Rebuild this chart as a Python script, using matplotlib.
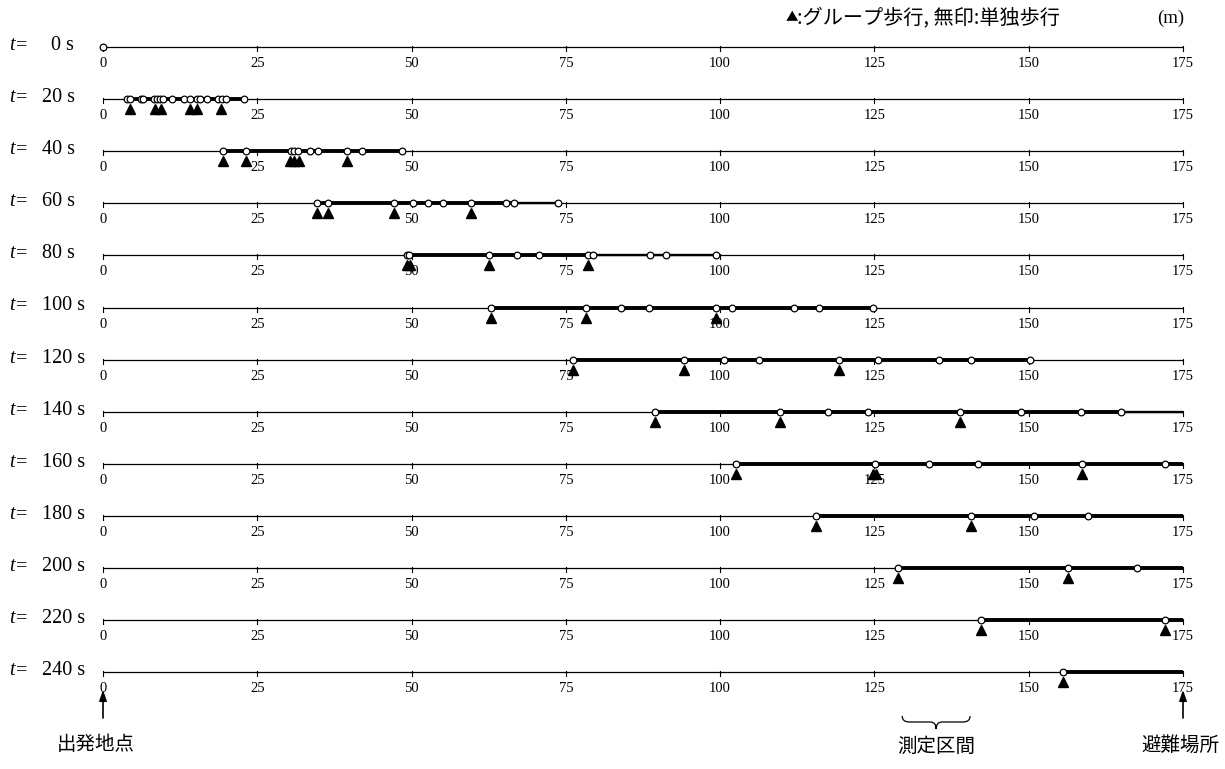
import matplotlib
matplotlib.use('Agg')
import matplotlib.pyplot as plt
from matplotlib.path import Path
from matplotlib.patches import PathPatch

plt.rcParams['font.family'] = ['Liberation Serif', 'DejaVu Serif']
jp_font = ['Noto Sans CJK JP', 'DejaVu Sans']

# elapsed time of each snapshot (s)
times = [0, 20, 40, 60, 80, 100, 120, 140, 160, 180, 200, 220, 240]
# distance ticks along the route (m)
dist_ticks = [0, 25, 50, 75, 100, 125, 150, 175]
route_len = 175

# positions of every walker (m), one list per snapshot
walkers = [
    [0],
    [3.9, 4.3, 6.1, 6.5, 8.2, 8.8, 9.3, 9.7, 11.2, 13.1, 14.1, 15.2, 15.7, 16.9, 18.6, 19.3, 19.9, 22.8],
    [19.5, 23.1, 30.4, 31.0, 31.6, 33.5, 34.8, 39.6, 41.9, 48.4],
    [34.6, 36.5, 47.1, 50.3, 52.7, 55.1, 59.6, 65.3, 66.6, 73.8],
    [49.3, 49.6, 62.6, 67.1, 70.6, 78.6, 79.4, 88.7, 91.3, 99.3],
    [62.9, 78.3, 84.0, 88.5, 99.4, 102.0, 111.9, 116.0, 124.7],
    [76.2, 94.1, 100.7, 106.3, 119.2, 125.5, 135.4, 140.7, 150.2],
    [89.5, 109.7, 117.4, 124.0, 138.9, 148.7, 158.4, 165.0],
    [102.5, 125.1, 133.9, 141.8, 158.7, 172.1],
    [115.6, 140.7, 150.8, 159.6],
    [128.9, 156.4, 167.5],
    [142.2, 172.1],
    [155.5],
]
# positions of group walkers (marked with a triangle)
groups = [
    [],
    [4.4, 8.4, 9.4, 14.1, 15.3, 19.2],
    [19.5, 23.1, 30.3, 31.0, 31.7, 39.6],
    [34.6, 36.5, 47.1, 59.6],
    [49.2, 49.7, 62.6, 78.6],
    [62.9, 78.3, 99.3],
    [76.2, 94.1, 119.2],
    [89.5, 109.7, 138.9],
    [102.5, 124.8, 125.3, 158.7],
    [115.6, 140.7],
    [128.9, 156.4],
    [142.2, 172.1],
    [155.5],
]
# extent of the crowd (thick line) and trailing thinner part
thick_from = [None, 3.9, 19.5, 34.6, 49.6, 62.9, 76.2, 89.5, 102.5, 115.6, 128.9, 142.2, 155.5]
thick_to = [None, 22.8, 48.4, 66.6, 79.4, 124.7, 150.2, 165.0, 175, 175, 175, 175, 175]
medium_to = [None, None, None, 73.8, 99.3, None, None, 175, None, None, None, None, None]

section = (129.5, 140.5)
legend_mark = '▲'
legend_text = ':グループ歩行, 無印:単独歩行'
unit_text = '(m)'
start_label = '出発地点'
goal_label = '避難場所'
section_label = '測定区間'

W, H = 1225, 769
fig = plt.figure(figsize=(W / 100, H / 100), dpi=100)
ax = fig.add_axes([0, 0, 1, 1])
ax.axis('off')

x0_px, x1_px = 103, 1183
ppm = (x1_px - x0_px) / route_len
row0_px, row_gap = 47, 52.1
ax.set_xlim(-x0_px / ppm, (W - x0_px) / ppm)
ax.set_ylim((H - row0_px) / row_gap, -row0_px / row_gap)


def px2x(px):
    return (px - x0_px) / ppm


def py2y(py):
    return (py - row0_px) / row_gap


def dy(px):
    return px / row_gap


for i, t in enumerate(times):
    ax.plot([0, route_len], [i, i], color='black', lw=0.9, solid_capstyle='butt', zorder=1)
    for d in dist_ticks:
        ax.plot([d, d], [i - dy(1), i + dy(4)], color='black', lw=0.8, zorder=1)
        ax.text(d, i + dy(20), str(d), ha='center', va='baseline', fontsize=10.5)
    if thick_from[i] is not None:
        ax.plot([thick_from[i], thick_to[i]], [i, i], color='black', lw=2.8,
                solid_capstyle='butt', zorder=2)
    if medium_to[i] is not None:
        ax.plot([thick_to[i], medium_to[i]], [i, i], color='black', lw=1.7,
                solid_capstyle='butt', zorder=2)
    ax.plot(walkers[i], [i] * len(walkers[i]), 'o', ms=4.8, mfc='white', mec='black',
            mew=0.9, zorder=4, clip_on=False)
    if groups[i]:
        ax.plot(groups[i], [i + dy(10)] * len(groups[i]), '^', ms=7.5, color='black',
                zorder=5, clip_on=False)
    # row label
    ax.text(px2x(9), i + dy(3), 't', style='italic', fontsize=14.5, va='baseline')
    ax.text(px2x(16), i + dy(3), '=', fontsize=14.5, va='baseline')
    num_x = 51 if t < 10 else 42
    ax.text(px2x(num_x), i + dy(3), f'{t} s', fontsize=14.5, va='baseline')

# header
ax.text(px2x(786), py2y(18), legend_mark, family=jp_font, fontsize=9, va='center')
ax.text(px2x(797), py2y(18), legend_text, family=jp_font, fontsize=14.5, va='center')
ax.text(px2x(1171), py2y(18), unit_text, fontsize=13.5, ha='center', va='center')

# start / goal arrows
for d, lab, cx in [(0, start_label, 96), (route_len, goal_label, 1180)]:
    ax.annotate('', xy=(d, py2y(690)), xytext=(d, py2y(718)),
                arrowprops=dict(arrowstyle='-|>,head_length=0.45,head_width=0.16',
                                color='black', lw=1.2, mutation_scale=14,
                                shrinkA=0, shrinkB=0))
    ax.text(px2x(cx), py2y(745), lab, family=jp_font, fontsize=14, ha='center', va='center')

# measuring section brace
L = x0_px + section[0] * ppm
R = x0_px + section[1] * ppm
C = (L + R) / 2
T, M, B = 716, 722, 729
verts = [(L, T), (L, M), (L + 7, M), (C - 6, M), (C, M), (C, B),
         (C, M), (C + 6, M), (R - 7, M), (R, M), (R, T)]
codes = [Path.MOVETO, Path.CURVE3, Path.CURVE3, Path.LINETO, Path.CURVE3, Path.CURVE3,
         Path.CURVE3, Path.CURVE3, Path.LINETO, Path.CURVE3, Path.CURVE3]
brace = Path([(px2x(a), py2y(b)) for a, b in verts], codes)
ax.add_patch(PathPatch(brace, fill=False, lw=0.9, edgecolor='black'))
ax.text(px2x(C), py2y(746), section_label, family=jp_font, fontsize=14, ha='center', va='center')

fig.savefig('out.png', dpi=100)
